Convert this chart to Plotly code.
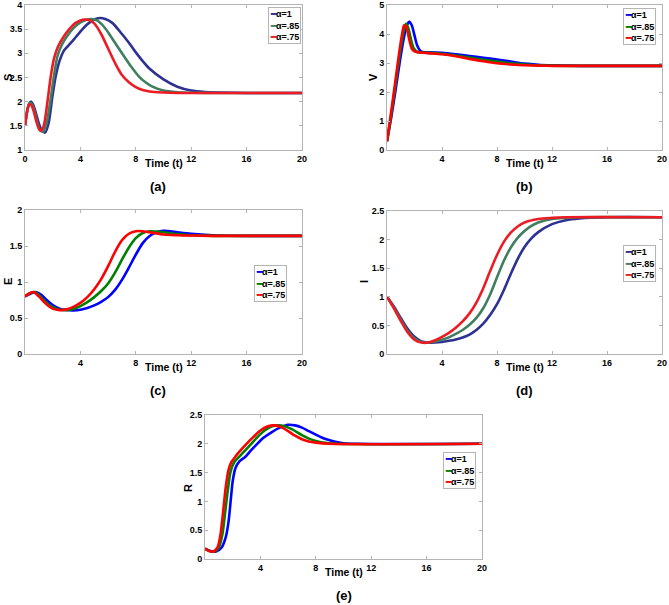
import plotly.graph_objects as go

# ---------------- data ----------------
series_names = ["α=1", "α=.85", "α=.75"]
x_ticks_a = [0, 4, 8, 12, 16, 20]
x_ticks_other = [4, 8, 12, 16, 20]

# (a) S
t_S1 = [0,0.15,0.3,0.45,0.6,0.8,1.0,1.2,1.45,1.7,1.95,2.2,2.5,2.8,3.1,3.5,4,4.5,5,5.4,5.8,6.3,7,7.5,8,8.5,9,10,11,12,13,14,16,18,20]
S1 = [1.5,1.8,1.96,2.0,1.93,1.75,1.55,1.41,1.36,1.55,2.05,2.5,2.85,3.05,3.15,3.28,3.45,3.6,3.7,3.73,3.71,3.63,3.4,3.22,3.02,2.84,2.68,2.46,2.31,2.23,2.2,2.19,2.18,2.18,2.18]
t_S2 = [0,0.15,0.3,0.4,0.55,0.75,0.95,1.1,1.3,1.55,1.8,2.05,2.35,2.7,3.1,3.5,4,4.5,4.8,5.2,5.7,6.2,6.7,7.2,7.7,8.2,8.7,9.2,10,11,12,14,16,20]
S2 = [1.5,1.8,1.95,1.97,1.92,1.72,1.5,1.4,1.38,1.55,1.95,2.45,2.95,3.2,3.38,3.52,3.64,3.7,3.71,3.68,3.55,3.35,3.13,2.92,2.71,2.53,2.4,2.31,2.23,2.195,2.185,2.18,2.18,2.18]
t_S3 = [0,0.15,0.3,0.45,0.65,0.85,1.0,1.15,1.35,1.6,1.85,2.1,2.4,2.8,3.2,3.6,4.0,4.3,4.6,5.0,5.5,6.0,6.5,7.0,7.5,8.0,8.5,9.0,10,11,12,14,16,20]
S3 = [1.5,1.78,1.94,1.93,1.78,1.56,1.44,1.4,1.5,1.95,2.5,2.9,3.15,3.35,3.5,3.62,3.68,3.7,3.69,3.62,3.4,3.1,2.8,2.55,2.4,2.3,2.24,2.21,2.19,2.18,2.18,2.18,2.18,2.18]

# (b) V
t_V1 = [0,0.3,0.6,0.9,1.2,1.45,1.62,1.8,2.0,2.2,2.45,2.7,3,4,5,6,7,8,9,10,11,12,14,20]
V1 = [0.3,1.1,2.0,2.95,3.8,4.3,4.42,4.3,3.95,3.6,3.4,3.37,3.37,3.35,3.3,3.24,3.18,3.12,3.05,2.98,2.94,2.92,2.9,2.9]
t_V2 = [0,0.3,0.6,0.9,1.15,1.38,1.55,1.75,1.95,2.2,2.5,3,4,5,6,7,8,9,10,11,12,14,20]
V2 = [0.3,1.2,2.2,3.2,3.95,4.35,4.2,3.8,3.5,3.38,3.36,3.35,3.32,3.26,3.19,3.11,3.05,2.99,2.95,2.92,2.91,2.9,2.9]
t_V3 = [0,0.3,0.6,0.9,1.1,1.25,1.4,1.6,1.8,2.0,2.3,3,4,5,6,7,8,9,10,11,12,14,20]
V3 = [0.3,1.3,2.35,3.4,4.0,4.3,4.25,3.85,3.5,3.4,3.37,3.34,3.3,3.23,3.14,3.06,2.99,2.95,2.92,2.91,2.9,2.9,2.9]

# (c) E
t_E1 = [0,0.3,0.8,1.2,1.5,2,2.5,3,3.5,4,4.5,5,5.5,6,6.5,7,7.5,8,8.5,9,9.5,10,10.5,11,12,13,14,16,20]
E1 = [0.8,0.83,0.86,0.82,0.76,0.68,0.63,0.61,0.605,0.615,0.64,0.675,0.725,0.79,0.89,1.03,1.2,1.38,1.54,1.64,1.69,1.71,1.705,1.69,1.67,1.655,1.645,1.64,1.64]
t_E2 = [0,0.3,0.7,1,1.5,2,2.5,3,3.5,4,4.5,5,5.5,6,6.5,7,7.5,8,8.5,9,9.5,10,11,12,13,14,20]
E2 = [0.8,0.84,0.86,0.82,0.72,0.65,0.615,0.61,0.625,0.665,0.72,0.79,0.875,0.98,1.13,1.31,1.48,1.61,1.68,1.705,1.7,1.69,1.665,1.65,1.645,1.64,1.64]
t_E3 = [0,0.3,0.6,1,1.5,2,2.5,3,3.5,4,4.5,5,5.5,6,6.5,7,7.5,8,8.5,9,10,11,12,14,20]
E3 = [0.8,0.84,0.86,0.8,0.7,0.63,0.61,0.62,0.655,0.71,0.79,0.9,1.04,1.22,1.42,1.58,1.67,1.705,1.705,1.69,1.66,1.65,1.645,1.64,1.64]

# (d) I
t_I1 = [0,0.5,1,1.5,2,2.5,3,3.5,4,4.5,5,5.5,6,6.5,7,7.5,8,8.5,9,9.5,10,10.5,11,12,13,14,16,20]
I1 = [1.0,0.83,0.63,0.44,0.3,0.22,0.2,0.2,0.21,0.23,0.255,0.29,0.34,0.42,0.53,0.68,0.87,1.12,1.4,1.66,1.87,2.02,2.13,2.27,2.34,2.37,2.39,2.39]
t_I2 = [0,0.5,1,1.5,2,2.5,3,3.5,4,4.5,5,5.5,6,6.5,7,7.5,8,8.5,9,9.5,10,10.5,11,12,13,14,20]
I2 = [1.0,0.81,0.6,0.4,0.27,0.21,0.2,0.22,0.25,0.29,0.35,0.42,0.51,0.63,0.8,1.04,1.34,1.63,1.86,2.03,2.15,2.24,2.3,2.36,2.38,2.39,2.39]
t_I3 = [0,0.5,1,1.5,2,2.5,3,3.5,4,4.5,5,5.5,6,6.5,7,7.5,8,8.5,9,9.5,10,11,12,13,20]
I3 = [1.0,0.8,0.58,0.38,0.25,0.2,0.2,0.24,0.3,0.37,0.46,0.57,0.71,0.9,1.15,1.45,1.73,1.96,2.12,2.23,2.3,2.36,2.38,2.39,2.39]

# (e) R
t_R1 = [0,0.4,0.8,1.2,1.5,1.7,1.85,2.0,2.2,2.5,2.9,3.3,3.7,4.2,4.8,5.4,6,6.5,7,7.5,8,8.5,9,9.5,10,11,20]
R1 = [0.18,0.14,0.13,0.2,0.38,0.65,1.0,1.35,1.58,1.7,1.77,1.88,1.98,2.1,2.2,2.28,2.33,2.32,2.28,2.22,2.16,2.1,2.06,2.03,2.01,2.0,2.0]
t_R2 = [0,0.3,0.7,1,1.25,1.45,1.65,1.85,2.1,2.4,2.8,3.3,3.8,4.3,4.8,5.3,5.8,6.3,7,7.5,8,8.5,9.5,20]
R2 = [0.18,0.14,0.13,0.2,0.42,0.8,1.2,1.52,1.68,1.76,1.86,1.99,2.12,2.23,2.3,2.32,2.3,2.25,2.15,2.09,2.05,2.02,2.0,2.0]
t_R3 = [0,0.3,0.6,0.9,1.1,1.3,1.5,1.7,1.9,2.2,2.5,3,3.5,4,4.5,5,5.5,6,6.5,7,7.5,8,9,20]
R3 = [0.18,0.14,0.13,0.2,0.4,0.8,1.25,1.55,1.68,1.78,1.87,2.0,2.12,2.23,2.3,2.32,2.29,2.22,2.14,2.08,2.04,2.02,2.0,2.0]

# ---------------- styling ----------------
W, H = 669, 605
FONT = "Liberation Sans, Arial, sans-serif"
cols_dark = ["#2E3192", "#3F7F5F", "#ED1C24"]
cols_bright = ["#0000FF", "#008000", "#FF0000"]

def px(x):
    return x / W

def py(y):
    return 1 - y / H

panels = [
    dict(box=(25, 302, 5, 150), yr=[1, 4], yt=[1, 1.5, 2, 2.5, 3, 3.5, 4], ylab="S", cap="(a)",
         xt=x_ticks_a, cols=cols_dark, data=[(t_S1, S1), (t_S2, S2), (t_S3, S3)],
         leg=(301, 7), ylab_pos=(8, 78)),
    dict(box=(387, 662, 5, 150), yr=[0, 5], yt=[0, 1, 2, 3, 4, 5], ylab="V", cap="(b)",
         xt=x_ticks_other, cols=cols_bright, data=[(t_V1, V1), (t_V2, V2), (t_V3, V3)],
         leg=(656, 8), ylab_pos=(373, 77)),
    dict(box=(25, 302, 210, 354), yr=[0, 2], yt=[0, 0.5, 1, 1.5, 2], ylab="E", cap="(c)",
         xt=x_ticks_other, cols=cols_bright, data=[(t_E1, E1), (t_E2, E2), (t_E3, E3)],
         leg=(287, 265), ylab_pos=(8, 282)),
    dict(box=(387, 662, 211, 354), yr=[0, 2.5], yt=[0, 0.5, 1, 1.5, 2, 2.5], ylab="I", cap="(d)",
         xt=x_ticks_other, cols=cols_dark, data=[(t_I1, I1), (t_I2, I2), (t_I3, I3)],
         leg=(656, 245), ylab_pos=(364, 282)),
    dict(box=(205, 482, 415, 559), yr=[0, 2.5], yt=[0, 0.5, 1, 1.5, 2, 2.5], ylab="R", cap="(e)",
         xt=x_ticks_other, cols=cols_bright, data=[(t_R1, R1), (t_R2, R2), (t_R3, R3)],
         leg=(476, 452), ylab_pos=(188, 488)),
]

fig = go.Figure()
layout = dict(width=W, height=H, margin=dict(l=0, r=0, t=0, b=0, autoexpand=False),
              paper_bgcolor="white", plot_bgcolor="white",
              font=dict(family=FONT, color="black"), showlegend=False)
annotations = []

def fmt(v):
    return "%g" % v

for i, p in enumerate(panels):
    n = "" if i == 0 else str(i + 1)
    x0, x1, y0, y1 = p["box"]
    axstyle = dict(showline=True, linecolor="#B4B4B4", linewidth=1, mirror="ticks",
                   ticks="inside", ticklen=3, tickcolor="#B4B4B4", showgrid=False,
                   zeroline=False, automargin=False, ticklabeloverflow="allow",
                   tickfont=dict(family=FONT, size=9, color="black", weight="bold"))
    layout["xaxis" + n] = dict(domain=[px(x0), px(x1)], range=[0, 20], anchor="y" + n,
                               tickvals=p["xt"], ticktext=[fmt(v) for v in p["xt"]], **axstyle)
    layout["yaxis" + n] = dict(domain=[py(y1), py(y0)], range=p["yr"], anchor="x" + n,
                               tickvals=p["yt"], ticktext=[fmt(v) for v in p["yt"]], **axstyle)
    for k, (tt, vv) in enumerate(p["data"]):
        fig.add_trace(go.Scatter(x=tt, y=vv, mode="lines", name=series_names[k],
                                 line=dict(color=p["cols"][k], width=2.6, shape="spline", smoothing=0.8),
                                 xaxis="x" + n, yaxis="y" + n))
    leg_text = "<br>".join(
        "<span style='color:%s'>━</span>%s" % (p["cols"][k], series_names[k]) for k in range(3))
    annotations.append(dict(text=leg_text, x=px(p["leg"][0]), y=py(p["leg"][1]),
                            xref="paper", yref="paper", showarrow=False, align="left",
                            xanchor="right", yanchor="top", bgcolor="white",
                            bordercolor="#B4B4B4", borderwidth=1, borderpad=1,
                            font=dict(family=FONT, size=9, color="black", weight="bold")))
    cx = (x0 + x1) / 2
    annotations.append(dict(text="Time (t)", x=px(cx), y=py(y1 + 13), xref="paper", yref="paper",
                            showarrow=False, xanchor="center", yanchor="middle",
                            font=dict(family=FONT, size=10.5, color="black", weight="bold")))
    annotations.append(dict(text=p["ylab"], x=px(p["ylab_pos"][0]), y=py(p["ylab_pos"][1]),
                            xref="paper", yref="paper", showarrow=False, textangle=-90,
                            xanchor="center", yanchor="middle",
                            font=dict(family=FONT, size=11, color="black", weight="bold")))
    annotations.append(dict(text=p["cap"], x=px(cx - 6 if i in (0, 2) else cx), y=py(y1 + 36),
                            xref="paper", yref="paper", showarrow=False, xanchor="center", yanchor="middle",
                            font=dict(family=FONT, size=13, color="black", weight="bold")))

layout["annotations"] = annotations
fig.update_layout(**layout)
fig.write_html("out.html", config={"displayModeBar": False},
               post_script="document.body.style.margin='0';document.body.style.padding='0';")
